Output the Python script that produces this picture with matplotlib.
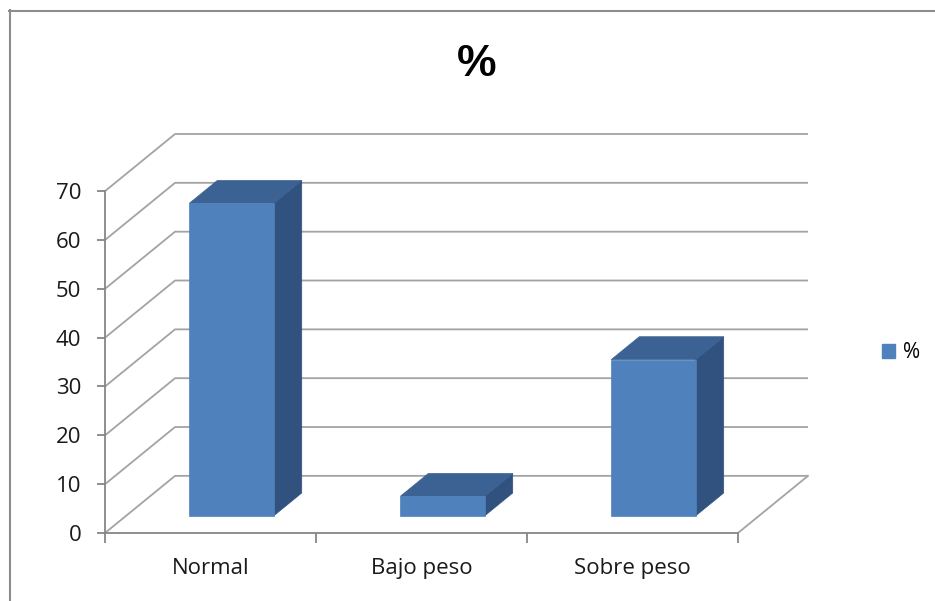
import matplotlib
matplotlib.use("Agg")
import matplotlib.pyplot as plt
from matplotlib.patches import Polygon, Patch
from matplotlib.lines import Line2D

categories = ["Normal", "Bajo peso", "Sobre peso"]
values = [64, 4, 32]
y_ticks = [0, 10, 20, 30, 40, 50, 60, 70]
series_name = "%"
chart_title = "%"

plt.rcParams['font.family'] = ['Open Sans', 'DejaVu Sans']

W, H = 935, 601
fig = plt.figure(figsize=(W / 100, H / 100), dpi=100)
fig.patch.set_facecolor("white")

# oblique offset of the box depth, in data units (x: categories, y: value)
DX = 0.332
DY = 11.7
YMAX = y_ticks[-1]
n = len(categories)

ax = fig.add_axes([105 / W, (H - 533) / H, 703 / W, 399 / H])
ax.set_xlim(0, n + DX)
ax.set_ylim(0, YMAX + DY)
ax.patch.set_alpha(0)

axis_col = "#868686"
grid_col = "#a3a3a3"

for s in ("top", "right"):
    ax.spines[s].set_visible(False)
ax.spines["left"].set_bounds(0, YMAX)
ax.spines["bottom"].set_bounds(0, n)
for s in ("left", "bottom"):
    ax.spines[s].set_color(axis_col)
    ax.spines[s].set_linewidth(1.3)

ax.set_yticks(y_ticks)
ax.set_yticklabels([str(t) for t in y_ticks])
ax.tick_params(axis="y", length=6, width=1.3, color=axis_col, pad=11,
               labelsize=16, labelcolor="#1a1a1a")

ax.set_xticks(range(n + 1))
ax.set_xticklabels([])
ax.set_xticks([i + 0.5 for i in range(n)], minor=True)
ax.set_xticklabels(categories, minor=True)
ax.tick_params(axis="x", which="major", length=7, width=1.3, color=axis_col)
ax.tick_params(axis="x", which="minor", length=0, pad=18,
               labelsize=16, labelcolor="#1a1a1a")

# side wall and back wall gridlines
for v in y_ticks:
    ax.plot([0, DX, n + DX], [v, v + DY, v + DY], color=grid_col, lw=1.3,
            zorder=1, clip_on=False, solid_capstyle="butt")
# right edge of the floor
ax.plot([n, n + DX], [0, DY], color=grid_col, lw=1.3, zorder=1, clip_on=False)

# 3D columns
front_col = "#4f81bd"
top_col = "#3b6292"
side_col = "#31527f"
t0 = 0.3      # depth position of the front face
depth = 0.4   # column depth as a fraction of the box depth
width = 0.4   # column width in category units
ddx, ddy = depth * DX, depth * DY
for i, v in enumerate(values):
    x0 = i + 0.5 - width / 2 + t0 * DX
    x1 = x0 + width
    yb = t0 * DY
    yt = yb + v
    side = Polygon([(x1, yb), (x1 + ddx, yb + ddy), (x1 + ddx, yt + ddy), (x1, yt)],
                   closed=True, facecolor=side_col, edgecolor=side_col, lw=0.5, zorder=3)
    top = Polygon([(x0, yt), (x1, yt), (x1 + ddx, yt + ddy), (x0 + ddx, yt + ddy)],
                  closed=True, facecolor=top_col, edgecolor=top_col, lw=0.5, zorder=3)
    front = Polygon([(x0, yb), (x1, yb), (x1, yt), (x0, yt)],
                    closed=True, facecolor=front_col, edgecolor=front_col, lw=0.5, zorder=4)
    for p in (side, top, front):
        p.set_clip_on(False)
        ax.add_patch(p)

# legend
ax.legend(handles=[Patch(facecolor=front_col, edgecolor=front_col)], labels=[series_name],
          loc="center left", bbox_to_anchor=(872 / W, 1 - 353 / H),
          bbox_transform=fig.transFigure, frameon=False, fontsize=15,
          handlelength=0.62, handleheight=0.62, handletextpad=0.35, borderpad=0)

# title
fig.text(477 / W, 1 - 64 / H, chart_title, ha="center", va="center",
         fontsize=32, fontweight="bold",
         family=["Liberation Sans Narrow", "Liberation Sans", "DejaVu Sans"])

# chart area border
fig.add_artist(Line2D([9.5 / W, 9.5 / W], [1 - 10 / H, 0], transform=fig.transFigure,
                      color="#8c8c8c", lw=1.5))
fig.add_artist(Line2D([9 / W, 1], [1 - 10.5 / H, 1 - 10.5 / H], transform=fig.transFigure,
                      color="#8c8c8c", lw=1.5))

fig.savefig("out.png", dpi=100, facecolor="white")
